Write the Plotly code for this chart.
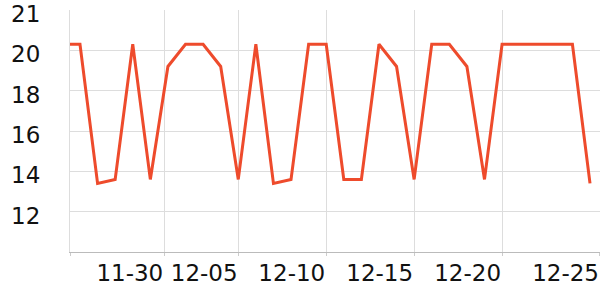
import plotly.graph_objects as go

dates = [
    "2023-11-25", "2023-11-26", "2023-11-27", "2023-11-28", "2023-11-29", "2023-11-30",
    "2023-12-01", "2023-12-02", "2023-12-03", "2023-12-04", "2023-12-05",
    "2023-12-06", "2023-12-07", "2023-12-08", "2023-12-09", "2023-12-10",
    "2023-12-11", "2023-12-12", "2023-12-13", "2023-12-14", "2023-12-15",
    "2023-12-16", "2023-12-17", "2023-12-18", "2023-12-19", "2023-12-20",
    "2023-12-21", "2023-12-22", "2023-12-23", "2023-12-24", "2023-12-25",
]
values = [
    20.3, 20.3, 13.4, 13.6, 20.3, 13.6,
    19.2, 20.3, 20.3, 19.2, 13.6,
    20.3, 13.4, 13.6, 20.3, 20.3,
    13.6, 13.6, 20.3, 19.2, 13.6,
    20.3, 20.3, 19.2, 13.6, 20.3,
    20.3, 20.3, 20.3, 20.3, 13.4,
]

x_tick_vals = ["2023-11-25 10:40", "2023-11-30 19:00", "2023-12-05 00:30", "2023-12-10 00:00",
               "2023-12-15 00:00", "2023-12-20 00:00", "2023-12-25 13:37"]
x_tick_text = ["", "11-30", "12-05", "12-10", "12-15", "12-20", "12-25"]
x_range = ["2023-11-25 10:22", "2023-12-25 13:38"]

y_tick_vals = [12, 14, 16, 18, 20, 22]
y_tick_text = ["12", "14", "16", "18", "20", "21"]
y_range = [10, 22]

fig = go.Figure(
    go.Scatter(
        x=dates, y=values, mode="lines",
        line=dict(color="#ee4b2c", width=3),
        hoverinfo="skip",
    )
)

font = dict(family="DejaVu Sans", size=23, color="#111111")

fig.update_layout(
    width=600, height=300,
    margin=dict(l=70, r=0, t=10, b=48),
    paper_bgcolor="white", plot_bgcolor="white",
    showlegend=False,
    font=font,
)
fig.update_xaxes(
    type="date", range=x_range, automargin=False,
    tickmode="array", tickvals=x_tick_vals, ticktext=x_tick_text,
    tickangle=0,
    ticklabelposition="outside left", ticklabeloverflow="allow",
    showgrid=True, gridcolor="#dddddd", gridwidth=1,
    showline=True, linecolor="#bbbbbb", linewidth=1,
    ticks="outside", ticklen=3, tickcolor="#cccccc", tickwidth=1,
    tickfont=font, zeroline=False,
)
fig.update_yaxes(
    range=y_range, automargin=False,
    tickmode="array", tickvals=y_tick_vals, ticktext=y_tick_text,
    ticklabeloverflow="allow", ticklabelshift=4,
    showgrid=True, gridcolor="#dddddd", gridwidth=1,
    showline=True, linecolor="#dddddd", linewidth=1,
    ticks="", ticklabelstandoff=24,
    tickfont=font, zeroline=False,
)

fig.write_html("out.html")
